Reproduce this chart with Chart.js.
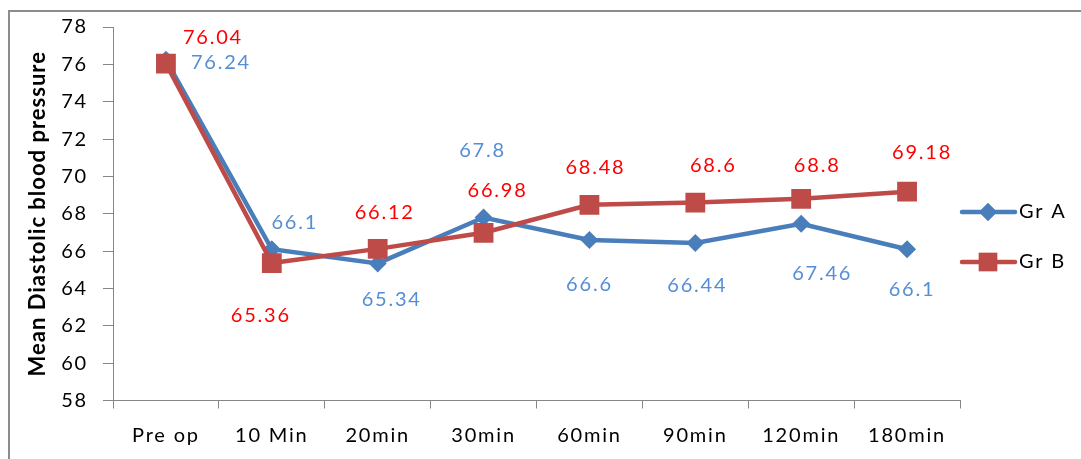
<!DOCTYPE html>
<html>
<head>
<meta charset="utf-8">
<script src="https://cdn.jsdelivr.net/npm/chart.js@4.4.1/dist/chart.umd.min.js"></script>
<style>
html,body{margin:0;padding:0;background:#fff;}
#wrap{position:relative;width:1081px;height:459px;}
</style>
</head>
<body>
<div id="wrap"><canvas id="c" width="1081" height="459"></canvas></div>
<script>
const categories = ["Pre op", "10 Min", "20min", "30min", "60min", "90min", "120min", "180min"];
const grA = [76.24, 66.1, 65.34, 67.8, 66.6, 66.44, 67.46, 66.1];
const grB = [76.04, 65.36, 66.12, 66.98, 68.48, 68.6, 68.8, 69.18];
const yTicks = [58, 60, 62, 64, 66, 68, 70, 72, 74, 76, 78];
const seriesNames = ["Gr A", "Gr B"];
const yTitle = "Mean Diastolic blood pressure";

const FONT = "Lato, 'Open Sans', sans-serif";
const FS = 20;
const SPACING = '1.8px';
const colA = '#4A7EBB', colB = '#BE4B48';
const labA = '#558ED5', labB = '#FF0000';

// label offsets (pixels) relative to points
const offsA = [[55,3],[23,-27],[14,36],[-1,-67],[0,45],[2,43],[21,50],[5,40]];
const offsB = [[47,-26],[-11,52],[7,-36],[14,-42],[6,-37],[18,-37],[16,-33],[15,-39]];

const spacingPlugin = {
  id: 'spacing',
  beforeUpdate(chart){ chart.ctx.letterSpacing = SPACING; },
  beforeDraw(chart){ chart.ctx.letterSpacing = SPACING; }
};

const decorPlugin = {
  id: 'decor',
  beforeDraw(chart){
    const ctx = chart.ctx;
    ctx.save();
    ctx.strokeStyle = '#8c8c8c';
    ctx.lineWidth = 2;
    ctx.beginPath();
    ctx.moveTo(9, 459); ctx.lineTo(9, 11); ctx.lineTo(1081, 11);
    ctx.stroke();
    ctx.restore();
  },
  afterDraw(chart){
    const ctx = chart.ctx;
    const area = chart.chartArea;
    ctx.save();
    ctx.letterSpacing = '1px';
    ctx.translate(38, (area.top + area.bottom)/2);
    ctx.rotate(-Math.PI/2);
    ctx.font = "bold 22px " + FONT;
    ctx.fillStyle = '#000';
    ctx.textAlign = 'center';
    ctx.textBaseline = 'middle';
    ctx.fillText(yTitle, 0, 0);
    ctx.restore();

    // legend
    const items = [
      {name: seriesNames[0], color: colA, style: 'rectRot', r: 9, y: 212},
      {name: seriesNames[1], color: colB, style: 'rect', r: 13, y: 262}
    ];
    items.forEach(it => {
      ctx.save();
      ctx.strokeStyle = it.color;
      ctx.lineWidth = 4.5;
      ctx.lineCap = 'round';
      ctx.beginPath();
      ctx.moveTo(962, it.y); ctx.lineTo(1015, it.y);
      ctx.stroke();
      ctx.fillStyle = it.color;
      Chart.helpers.drawPoint(ctx, {pointStyle: it.style, radius: it.r, borderWidth: 0}, 988, it.y);
      ctx.fill();
      ctx.letterSpacing = SPACING;
      ctx.font = FS + "px " + FONT;
      ctx.fillStyle = '#000';
      ctx.textAlign = 'left';
      ctx.textBaseline = 'middle';
      ctx.fillText(it.name, 1019, it.y);
      ctx.restore();
    });
  },
  afterDatasetsDraw(chart){
    const ctx = chart.ctx;
    const sets = [{idx:0, offs: offsA, color: labA}, {idx:1, offs: offsB, color: labB}];
    ctx.save();
    ctx.letterSpacing = SPACING;
    ctx.font = FS + "px " + FONT;
    ctx.textAlign = 'center';
    ctx.textBaseline = 'middle';
    sets.forEach(s => {
      const meta = chart.getDatasetMeta(s.idx);
      const data = chart.data.datasets[s.idx].data;
      ctx.fillStyle = s.color;
      meta.data.forEach((pt, i) => {
        ctx.fillText(String(data[i]), pt.x + s.offs[i][0], pt.y + s.offs[i][1]);
      });
    });
    ctx.restore();
  }
};

new Chart(document.getElementById('c'), {
  type: 'line',
  data: {
    labels: categories,
    datasets: [
      {label: seriesNames[0], data: grA, borderColor: colA, backgroundColor: colA,
       borderWidth: 4.5, pointStyle: 'rectRot', pointRadius: 9, pointHoverRadius: 9,
       pointBorderWidth: 0, tension: 0, order: 1},
      {label: seriesNames[1], data: grB, borderColor: colB, backgroundColor: colB,
       borderWidth: 4.5, pointStyle: 'rect', pointRadius: 14, pointHoverRadius: 14,
       pointBorderWidth: 0, tension: 0, order: 0}
    ]
  },
  options: {
    responsive: false,
    animation: false,
    events: [],
    layout: {padding: {left: 0, right: 121, top: 26, bottom: 0}},
    plugins: {legend: {display: false}, tooltip: {enabled: false}, title: {display: false}},
    scales: {
      x: {
        offset: true,
        grid: {display: true, offset: true, drawOnChartArea: false, drawTicks: true, tickLength: 8, color: '#868686'},
        border: {display: true, color: '#868686', width: 1},
        ticks: {color: '#000', font: {family: FONT, size: FS}, padding: 15, maxRotation: 0, autoSkip: false},
        afterFit(scale){ scale.height = 58.5; }
      },
      y: {
        min: 58, max: 78,
        afterBuildTicks(scale){ scale.ticks = yTicks.map(v => ({value: v})); },
        grid: {display: true, drawOnChartArea: false, drawTicks: true, tickLength: 10, color: '#868686'},
        border: {display: true, color: '#868686', width: 1},
        ticks: {color: '#000', font: {family: FONT, size: FS}, padding: 15},
        afterFit(scale){ scale.width = 113; }
      }
    }
  },
  plugins: [spacingPlugin, decorPlugin]
});
</script>
</body>
</html>
